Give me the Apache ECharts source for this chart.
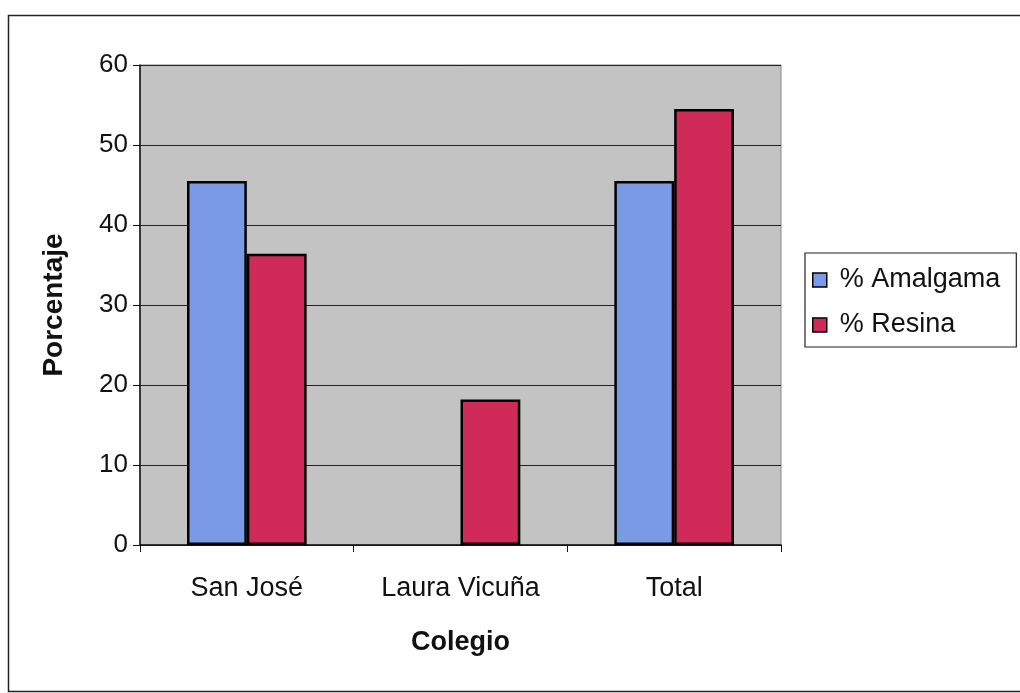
<!DOCTYPE html>
<html><head><meta charset="utf-8">
<script src="https://cdn.jsdelivr.net/npm/echarts@6/dist/echarts.min.js"></script>
<style>html,body{margin:0;padding:0;background:#fff}#c{width:1020px;height:693px}</style>
</head><body><div id="c"></div>
<script>
const categories = ['San José', 'Laura Vicuña', 'Total'];
const amalgama = [45.5, 0, 45.5];
const resina = [36.4, 18.2, 54.5];
const seriesNames = ['% Amalgama', '% Resina'];

const chart = echarts.init(document.getElementById('c'));
const font = 'Arial, "Liberation Sans", sans-serif';
function toItems(arr) {
  return arr.map(v => v === 0 ? {value: v, itemStyle: {borderWidth: 0}} : v);
}
chart.setOption({
  backgroundColor: '#ffffff',
  animation: false,
  graphic: [{
    type: 'rect', shape: {x: 8.5, y: 15.5, width: 1030, height: 676},
    style: {fill: 'none', stroke: '#222', lineWidth: 1.5}, z: -1
  }],
  legend: {
    orient: 'vertical', left: 805, top: 253,
    data: seriesNames,
    itemWidth: 14, itemHeight: 14, itemGap: 15,
    padding: [12, 16, 7, 7],
    borderColor: '#222', borderWidth: 1.2,
    backgroundColor: '#fff',
    textStyle: {fontFamily: font, fontSize: 27, lineHeight: 30, color: '#111', padding: [0, 0, 0, 8]},
    icon: 'rect',
    itemStyle: {borderColor: '#000', borderWidth: 1.5}
  },
  grid: {left: 140, right: 239, top: 65, bottom: 148, show: true, backgroundColor: '#c3c3c3', borderColor: '#888', borderWidth: 1},
  xAxis: {
    type: 'category', data: categories,
    name: 'Colegio', nameLocation: 'middle', nameGap: 84,
    nameTextStyle: {fontFamily: font, fontSize: 27, fontWeight: 'bold', color: '#111'},
    axisLine: {lineStyle: {color: '#111', width: 1.5}},
    axisTick: {show: true, length: 7, lineStyle: {color: '#111'}},
    axisLabel: {fontFamily: font, fontSize: 27, color: '#111', margin: 30}
  },
  yAxis: {
    type: 'value', min: 0, max: 60, interval: 10,
    name: 'Porcentaje', nameLocation: 'middle', nameGap: 72,
    nameTextStyle: {fontFamily: font, fontSize: 28, fontWeight: 'bold', color: '#111'},
    axisLine: {show: true, lineStyle: {color: '#111', width: 1.5}},
    axisTick: {show: true, length: 7, lineStyle: {color: '#111'}},
    axisLabel: {fontFamily: font, fontSize: 26, color: '#111', margin: 12},
    splitLine: {lineStyle: {color: '#222', width: 1.2}}
  },
  series: [
    {name: seriesNames[0], type: 'bar', data: toItems(amalgama), barGap: '0%', barCategoryGap: '44%',
     itemStyle: {color: '#7a9ae6', borderColor: '#000', borderWidth: 2.5}},
    {name: seriesNames[1], type: 'bar', data: toItems(resina), barGap: '0%', barCategoryGap: '44%',
     itemStyle: {color: '#d02a58', borderColor: '#000', borderWidth: 2.5}}
  ]
});
</script></body></html>
